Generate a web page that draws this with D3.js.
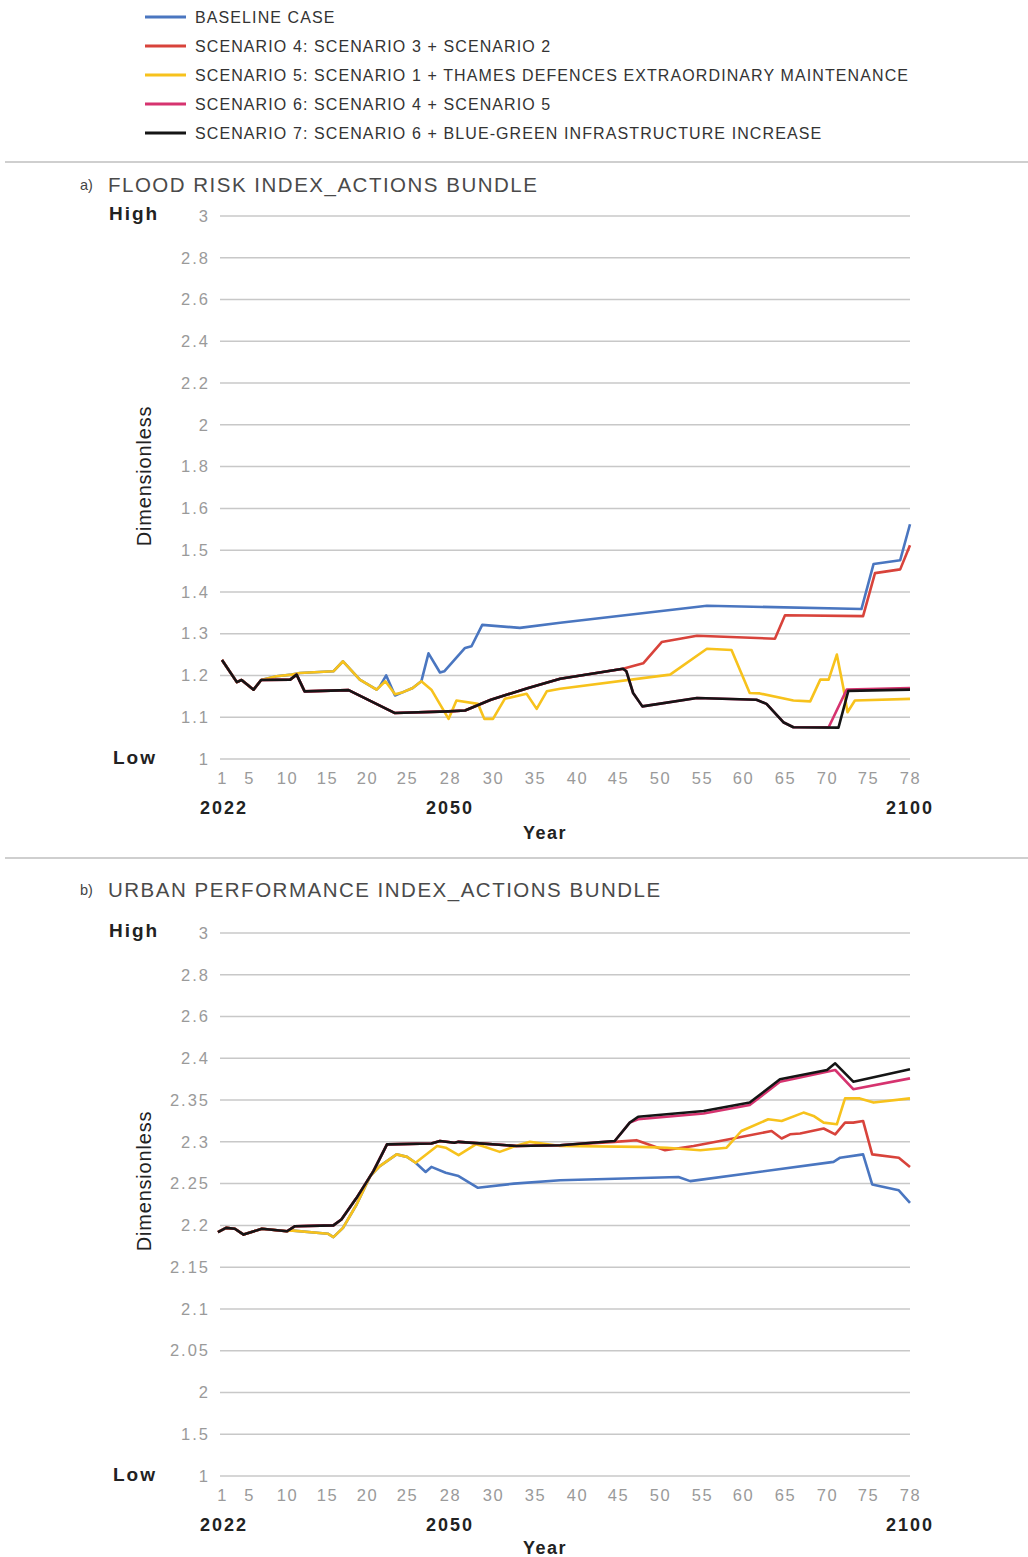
<!DOCTYPE html>
<html>
<head>
<meta charset="utf-8">
<script src="https://cdn.jsdelivr.net/npm/d3@7"></script>
<style>
  body { margin: 0; background: #fff; }
  text { font-family: "Liberation Sans", Arial, sans-serif; }
</style>
</head>
<body>
<div id="chart"></div>
<script>
// series labels + colours
const seriesNames = [
  "BASELINE CASE",
  "SCENARIO 4: SCENARIO 3 + SCENARIO 2",
  "SCENARIO 5: SCENARIO 1 + THAMES DEFENCES EXTRAORDINARY MAINTENANCE",
  "SCENARIO 6: SCENARIO 4 + SCENARIO 5",
  "SCENARIO 7: SCENARIO 6 + BLUE-GREEN INFRASTRUCTURE INCREASE"
];
const seriesColors = ["#4a76c0", "#d8433b", "#f7c21c", "#d6336f", "#151515"];

// x axis: tick labels are step numbers, 2022..2100
const xTicks = [1, 5, 10, 15, 20, 25, 28, 30, 35, 40, 45, 50, 55, 60, 65, 70, 75, 78];
const yearLabels = [[1, "2022"], [28, "2050"], [78, "2100"]];

// y axes are unevenly spaced in the original
const floodTicks = [1, 1.1, 1.2, 1.3, 1.4, 1.5, 1.6, 1.8, 2, 2.2, 2.4, 2.6, 2.8, 3];
const urbanTicks = [1, 1.5, 2, 2.05, 2.1, 2.15, 2.2, 2.25, 2.3, 2.35, 2.4, 2.6, 2.8, 3];

// ---- a) flood risk index, [step, value]
const floodStart = [[1,1.237],[3.2,1.184],[3.9,1.189],[5.6,1.166],[6.6,1.189]];
const floodBlackEarly = [[10.4,1.19],[11.2,1.202],[12.2,1.162],[17.7,1.165],[23.5,1.11],
  [27.9,1.114],[28.7,1.116],[29.9,1.142],[34.2,1.17],[38,1.192],[45.6,1.216]];
const floodS7 = floodStart.concat(floodBlackEarly, [[46,1.21],[46.8,1.158],[47.9,1.126],
  [54.4,1.146],[61.6,1.142],[62.8,1.132],[64.8,1.088],[66,1.076],[71.4,1.075],[72.6,1.163],[78,1.166]]);
const floodS6 = floodStart.concat(floodBlackEarly, [[46,1.21],[46.8,1.158],[47.9,1.126],
  [54.4,1.146],[61.6,1.142],[62.8,1.132],[64.8,1.088],[66,1.076],[70.2,1.076],[72.4,1.166],[78,1.17]]);
const floodS4 = floodStart.concat(floodBlackEarly, [[48,1.229],[50.2,1.28],[54.4,1.295],
  [63.8,1.288],[65,1.344],[74.4,1.342],[75.5,1.445],[77.3,1.454],[78,1.512]]);
const floodYellowEarly = [[8.6,1.198],[10.6,1.202],[11.6,1.206],[15.8,1.21],[17,1.234],
  [19.1,1.19],[21.2,1.166]];
const floodS5 = floodStart.concat(floodYellowEarly, [[22.3,1.186],[23.5,1.155],[24.5,1.16],
  [25.4,1.17],[26,1.186],[26.7,1.166],[27.9,1.096],[28.3,1.14],[29.3,1.132],[29.6,1.096],
  [30,1.096],[31.4,1.144],[34,1.156],[35.2,1.12],[36.4,1.162],[38,1.168],[51.2,1.202],
  [55.6,1.264],[58.6,1.261],[60.8,1.158],[62,1.157],[66,1.14],[68,1.138],[69.2,1.19],
  [70.2,1.19],[71.2,1.25],[72,1.17],[72.5,1.112],[73.4,1.14],[78,1.144]]);
const floodBase = floodStart.concat(floodYellowEarly, [[21.6,1.174],[22.4,1.2],[23.5,1.152],
  [24.5,1.16],[25.4,1.17],[26,1.186],[26.5,1.253],[27.3,1.207],[27.6,1.21],[28.7,1.266],
  [29,1.27],[29.5,1.321],[33.2,1.314],[38,1.326],[55.6,1.367],[74.2,1.359],[75.4,1.467],
  [77.3,1.476],[78,1.562]]);

// ---- b) urban performance index
const urbanStart = [[0.4,2.192],[1.6,2.197],[2.9,2.196],[4.2,2.189],[6.7,2.196],[10,2.193]];
const urbanBlackEarly = [[11,2.199],[15.8,2.2],[16.8,2.207],[18.7,2.233],[20.8,2.265],
  [22.5,2.297],[26.7,2.298],[27.3,2.301],[28.2,2.299],[28.4,2.3],[32.8,2.295],[38,2.296]];
const urbanS7 = urbanStart.concat(urbanBlackEarly, [[44.6,2.301],[46.4,2.323],[47.4,2.33],
  [55.2,2.337],[60.8,2.347],[64.4,2.375],[70,2.386],[71,2.394],[73.2,2.372],[78,2.387]]);
const urbanS6 = urbanStart.concat(urbanBlackEarly, [[44.6,2.301],[46.4,2.323],[47.4,2.327],
  [55.2,2.334],[60.8,2.344],[64.4,2.372],[70,2.384],[71,2.386],[73.2,2.363],[78,2.376]]);
const urbanS4 = urbanStart.concat(urbanBlackEarly, [[44.6,2.3],[47.2,2.302],[50.6,2.29],
  [54,2.295],[58.8,2.304],[63.4,2.313],[64.6,2.304],[65.6,2.309],[66.8,2.31],[69.6,2.316],
  [71,2.309],[72.2,2.323],[73.2,2.323],[74.4,2.325],[75.3,2.285],[77.2,2.281],[78,2.27]]);
const urbanYellowEarly = [[10.4,2.194],[15.1,2.19],[15.8,2.186],[17,2.197],[18.7,2.225],
  [20.4,2.259],[21.6,2.271],[23.7,2.285],[25,2.282],[25.6,2.275]];
const urbanS5 = urbanStart.concat(urbanYellowEarly, [[27.1,2.295],[27.7,2.293],[28.4,2.284],
  [29.2,2.297],[29.5,2.295],[30.8,2.288],[32.4,2.294],[34.4,2.3],[38,2.295],[47.6,2.294],
  [50.8,2.293],[54.8,2.29],[58,2.293],[59.8,2.313],[63,2.327],[64.6,2.325],[67.2,2.335],
  [68.4,2.331],[69.6,2.323],[71.2,2.321],[72.2,2.352],[74,2.352],[75.4,2.347],[78,2.352]]);
const urbanBase = urbanStart.concat(urbanYellowEarly, [[26.3,2.264],[26.7,2.27],[27.7,2.263],
  [28.4,2.259],[29.3,2.245],[32.5,2.25],[38,2.254],[52.2,2.258],[53.6,2.253],[70.8,2.276],
  [71.6,2.281],[74.4,2.285],[75.3,2.249],[77.2,2.242],[78,2.227]]);

const W = 1028, H = 1557;
const svg = d3.select("#chart").append("svg")
  .attr("width", W).attr("height", H);

// legend
const legend = svg.append("g");
seriesNames.forEach((name, i) => {
  const y = 17 + i * 29;
  legend.append("line")
    .attr("x1", 145).attr("x2", 186).attr("y1", y).attr("y2", y)
    .attr("stroke", seriesColors[i]).attr("stroke-width", 3);
  legend.append("text")
    .attr("x", 195).attr("y", y + 5.5)
    .attr("font-size", 16).attr("letter-spacing", 1.1).attr("fill", "#333")
    .text(name);
});

// tick pixel positions along x, as measured on the original axis
const xTickPx = [222, 249, 287, 327, 367, 407, 450, 493, 535, 577, 618, 660, 702, 743, 785, 827, 868, 910];
const x = d3.scaleLinear().domain(xTicks).range(xTickPx);

function drawPanel(cfg) {
  const g = svg.append("g");
  const top = cfg.top, bottom = cfg.top + 543;
  const y = d3.scaleLinear()
    .domain(cfg.ticks)
    .range(cfg.ticks.map((d, i) => bottom - i * (bottom - top) / (cfg.ticks.length - 1)));

  g.append("line")
    .attr("x1", 5).attr("x2", W).attr("y1", cfg.sepY).attr("y2", cfg.sepY)
    .attr("stroke", "#cfcfcf").attr("stroke-width", 2);

  g.append("text").attr("x", 80).attr("y", cfg.titleY + 6)
    .attr("font-size", 14.5).attr("fill", "#444").text(cfg.letter);
  g.append("text").attr("x", 108).attr("y", cfg.titleY + 7.5)
    .attr("font-size", 20.5).attr("letter-spacing", 1.5).attr("fill", "#4a4a4a").text(cfg.title);

  // grid
  g.append("g").selectAll("line")
    .data(cfg.ticks)
    .join("line")
      .attr("x1", 220).attr("x2", 910)
      .attr("y1", d => y(d)).attr("y2", d => y(d))
      .attr("stroke", "#c8c8c8").attr("stroke-width", 1.5);

  const yAxis = g.append("g")
    .attr("transform", "translate(210,0)")
    .call(d3.axisLeft(y).tickValues(cfg.ticks).tickSize(0).tickPadding(0).tickFormat(d3.format("")));
  yAxis.select(".domain").remove();
  yAxis.selectAll("text")
    .attr("font-size", 16.5).attr("letter-spacing", 2).attr("fill", "#9a9a9a")
    .style("font-family", "Liberation Sans, Arial, sans-serif");

  const xAxis = g.append("g")
    .attr("transform", `translate(0, ${bottom + 13})`)
    .call(d3.axisBottom(x).tickValues(xTicks).tickSize(0).tickPadding(0));
  xAxis.select(".domain").remove();
  xAxis.selectAll("text")
    .attr("font-size", 16.5).attr("letter-spacing", 1.5).attr("fill", "#9a9a9a")
    .style("font-family", "Liberation Sans, Arial, sans-serif");

  g.selectAll(".yr")
    .data(yearLabels)
    .join("text")
      .attr("x", d => x(d[0]) + (d[0] === 1 ? 2 : 0))
      .attr("y", bottom + 55)
      .attr("text-anchor", "middle")
      .attr("font-size", 18).attr("letter-spacing", 2).attr("font-weight", "bold").attr("fill", "#222")
      .text(d => d[1]);

  g.append("text").attr("x", 545).attr("y", bottom + cfg.yearDy)
    .attr("text-anchor", "middle").attr("font-size", 18).attr("letter-spacing", 1.5)
    .attr("font-weight", "bold").attr("fill", "#222").text("Year");

  g.append("text").attr("x", 109).attr("y", top + 4)
    .attr("font-size", 19).attr("letter-spacing", 2).attr("font-weight", "bold").attr("fill", "#222").text("High");
  g.append("text").attr("x", 113).attr("y", bottom + 5)
    .attr("font-size", 19).attr("letter-spacing", 2).attr("font-weight", "bold").attr("fill", "#222").text("Low");

  g.append("text")
    .attr("transform", `translate(151, ${cfg.dimY}) rotate(-90)`)
    .attr("text-anchor", "middle").attr("font-size", 20).attr("letter-spacing", 0.8).attr("fill", "#222")
    .text("Dimensionless");

  const line = d3.line().x(d => x(d[0])).y(d => y(d[1]));
  g.append("g").selectAll("path")
    .data(cfg.series)
    .join("path")
      .attr("d", d => line(d))
      .attr("fill", "none")
      .attr("stroke", (d, i) => seriesColors[i])
      .attr("stroke-width", 2.6)
      .attr("stroke-linejoin", "round");
}

drawPanel({
  letter: "a)", title: "FLOOD RISK INDEX_ACTIONS BUNDLE",
  sepY: 162, titleY: 184, top: 216, dimY: 476, yearDy: 80,
  ticks: floodTicks,
  series: [floodBase, floodS4, floodS5, floodS6, floodS7]
});
drawPanel({
  letter: "b)", title: "URBAN PERFORMANCE INDEX_ACTIONS BUNDLE",
  sepY: 858, titleY: 889, top: 933, dimY: 1181, yearDy: 78,
  ticks: urbanTicks,
  series: [urbanBase, urbanS4, urbanS5, urbanS6, urbanS7]
});
</script>
</body>
</html>
